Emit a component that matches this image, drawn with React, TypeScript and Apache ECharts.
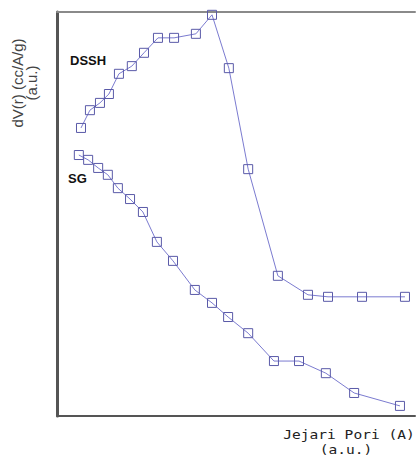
import React, { useEffect, useRef } from "react";
import * as echarts from "echarts";

// Pore radius (a.u.) and dV(r) (a.u.)
const dsshX = [6.7, 9.2, 12.0, 14.5, 17.3, 20.9, 24.3, 28.2, 32.7, 38.8, 43.3, 48.0, 53.4, 61.7, 70.1, 75.7, 85.2, 97.2];
const dsshY = [71.3, 75.7, 77.5, 79.7, 84.7, 86.6, 89.9, 93.6, 93.6, 94.6, 99.3, 86.1, 61.1, 34.7, 30.0, 29.5, 29.5, 29.5];
const sgX = [6.1, 8.7, 11.5, 14.2, 17.0, 20.4, 24.0, 27.9, 32.4, 38.5, 43.3, 47.8, 53.4, 60.6, 67.6, 75.1, 83.0, 95.8];
const sgY = [64.6, 63.4, 61.4, 59.7, 56.4, 53.7, 50.5, 43.1, 38.4, 31.2, 28.0, 24.5, 20.5, 13.6, 13.6, 10.6, 5.7, 2.5];
const seriesNames = ["DSSH", "SG"];
const yAxisTitle = "dV(r) (cc/A/g)\n(a.u.)";
const xAxisTitleLines = ["Jejari Pori (A)", "(a.u.)"];

const pairs = (xs: number[], ys: number[]) => xs.map((x, i) => [x, ys[i]]);

export default function App() {
  const ref = useRef<HTMLDivElement>(null);
  useEffect(() => {
    if (!ref.current) return;
    const chart = echarts.init(ref.current, null, { renderer: "svg" });
    const lineColor = "#7b7bd0";
    const markerStyle = {
      color: "transparent",
      borderColor: "#5a5aa8",
      borderWidth: 1,
    };
    const monoFont = "13px 'DejaVu Sans Mono', monospace";
    chart.setOption({
      animation: false,
      backgroundColor: "#ffffff",
      grid: { left: 57, top: 12, right: 1, bottom: 40 },
      xAxis: [
        {
          type: "value",
          min: 0,
          max: 100,
          position: "bottom",
          axisLine: { show: true, lineStyle: { color: "#555555", width: 2 } },
          axisTick: { show: false },
          axisLabel: { show: false },
          splitLine: { show: false },
        },
        {
          type: "value",
          min: 0,
          max: 100,
          position: "top",
          axisLine: { show: true, lineStyle: { color: "#8a8a8a", width: 2 } },
          axisTick: { show: false },
          axisLabel: { show: false },
          splitLine: { show: false },
        },
      ],
      yAxis: {
        type: "value",
        min: 0,
        max: 100,
        axisLine: { show: true, lineStyle: { color: "#555555", width: 3 } },
        axisTick: { show: false },
        axisLabel: { show: false },
        splitLine: { show: false },
      },
      series: [
        {
          name: seriesNames[0],
          type: "line",
          data: pairs(dsshX, dsshY),
          symbol: "rect",
          symbolSize: 9,
          showAllSymbol: true,
          lineStyle: { color: lineColor, width: 1 },
          itemStyle: markerStyle,
        },
        {
          name: seriesNames[1],
          type: "line",
          data: pairs(sgX, sgY),
          symbol: "rect",
          symbolSize: 9,
          showAllSymbol: true,
          lineStyle: { color: lineColor, width: 1 },
          itemStyle: markerStyle,
        },
      ],
      graphic: [
        {
          type: "text",
          x: 70,
          y: 60,
          style: {
            text: seriesNames[0],
            font: "bold 13px 'Liberation Sans', Arial, sans-serif",
            fill: "#111111",
            verticalAlign: "middle",
          },
        },
        {
          type: "text",
          x: 68,
          y: 178,
          style: {
            text: seriesNames[1],
            font: "bold 13px 'Liberation Sans', Arial, sans-serif",
            fill: "#111111",
            verticalAlign: "middle",
          },
        },
        {
          type: "text",
          x: 24,
          y: 83,
          rotation: Math.PI / 2,
          style: {
            text: yAxisTitle,
            font: "15px 'Liberation Sans', Arial, sans-serif",
            fill: "#444444",
            align: "center",
            verticalAlign: "middle",
            lineHeight: 14,
          },
        },
        {
          type: "text",
          x: 349,
          y: 434,
          scaleX: 1.12,
          style: {
            text: xAxisTitleLines[0],
            font: monoFont,
            fill: "#222222",
            align: "center",
            verticalAlign: "middle",
          },
        },
        {
          type: "text",
          x: 346,
          y: 449,
          scaleX: 1.12,
          style: {
            text: xAxisTitleLines[1],
            font: monoFont,
            fill: "#222222",
            align: "center",
            verticalAlign: "middle",
          },
        },
      ],
    });
    return () => chart.dispose();
  }, []);
  return (
    <div
      ref={ref}
      style={{ width: 416, height: 456, position: "absolute", left: 0, top: 0 }}
    />
  );
}
